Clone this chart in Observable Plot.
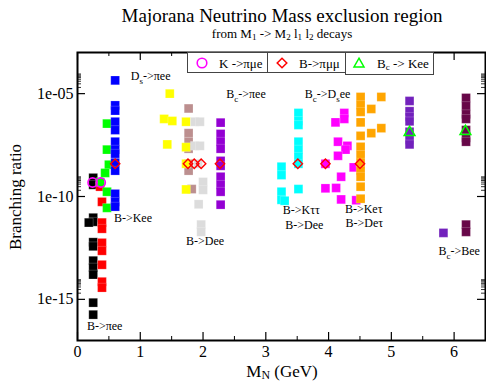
<!DOCTYPE html>
<html><head><meta charset="utf-8">
<script src="https://cdn.jsdelivr.net/npm/d3@7"></script>
<script src="https://cdn.jsdelivr.net/npm/@observablehq/plot@0.6"></script>
<style>
body{margin:0;background:#fff;}
#wrap{position:relative;width:486px;height:385px;overflow:hidden;font-family:"Liberation Serif","Times New Roman",serif;color:#000;}
#wrap svg text{font-family:"Liberation Serif","Times New Roman",serif;}
.ov{position:absolute;white-space:nowrap;line-height:1;}
.ov sub{font-size:0.7em;vertical-align:-0.25em;line-height:0;}
.lg{position:absolute;background:#fff;border:1px solid #444;box-sizing:border-box;}
.lg span{position:absolute;white-space:nowrap;font-size:13px;line-height:1;top:50%;transform:translateY(-50%);}
.lg span sub{font-size:0.7em;vertical-align:-0.25em;line-height:0;}
.lg svg{position:absolute;top:0;left:0;}
</style></head><body><div id="wrap"></div>
<script>
// ---- data: [M_N (GeV), branching ratio] ----
const bPiee   = [[0.25,8.1e-10],[0.25,3.7e-10],[0.25,9.3e-12],[0.25,5.9e-12],[0.18,5.4e-12],[0.25,6.0e-13],[0.25,3.8e-13],[0.25,7.6e-14],[0.25,3.5e-14],[0.25,1.6e-14],[0.25,6.9e-16],[0.25,1.8e-16]];
const redSq   = [[0.36,3.0e-10],[0.39,5.5e-11],[0.39,5.4e-12],[0.39,2.7e-12],[0.39,5.6e-13],[0.39,2.3e-13],[0.39,4.8e-14],[0.39,7.2e-15],[0.39,3.7e-15]];
const bKee    = [[0.47,3.5e-7],[0.47,1.9e-8],[0.5,3.5e-9],[0.44,1.4e-9],[0.36,5.0e-10],[0.47,1.7e-10],[0.47,2.8e-11]];
const dsPiee  = [[0.6,4.4e-5],[0.6,2.7e-6],[0.6,1.5e-6],[0.6,4.3e-7],[0.6,1.7e-7],[0.6,4.6e-8],[0.6,1.9e-8],[0.6,1.2e-8],[0.6,4.4e-9],[0.6,1.8e-9],[0.6,1.35e-10],[0.6,5.5e-11],[0.6,3.2e-11]];
const yellowSq= [[1.47,1.0e-5],[1.38,5.9e-7],[1.51,4.7e-7],[1.43,3.4e-8],[1.73,4.3e-7],[1.73,2.5e-8],[1.73,3.9e-9],[1.73,2.2e-10]];
const brownSq = [[1.77,1.9e-6],[1.77,1.2e-7],[1.77,4.6e-8],[1.77,2.1e-8],[1.77,3.9e-9],[1.77,1.8e-9],[1.82,2.3e-10]];
const bDee    = [[1.87,4.3e-7],[1.95,4.3e-7],[1.87,2.9e-8],[1.95,2.9e-8],[1.92,3.9e-9],[2.0,5.1e-10],[2.0,2.1e-10],[1.93,4.2e-11],[1.97,4.3e-12],[1.97,1.9e-12]];
const bcPiee  = [[2.28,3.9e-7],[2.28,1.1e-7],[2.28,4.6e-8],[2.28,2.1e-8],[2.28,5.4e-9],[2.28,3.1e-9],[2.28,9.1e-10],[2.28,3.7e-10],[2.28,1.7e-10],[2.28,4.0e-11]];
const bKtt    = [[3.52,1.15e-6],[3.52,4.7e-7],[3.52,3.0e-7],[3.52,4.6e-8],[3.52,1.9e-8],[3.52,8.5e-9],[3.52,3.9e-9],[3.52,2.3e-10],[3.25,2.8e-9],[3.25,1.1e-9],[3.25,1.7e-10],[3.25,6.9e-11],[3.3,6.2e-11]];
const bcDsee  = [[4.25,1.15e-6],[4.25,5.9e-7],[4.11,4.0e-7],[4.15,4.6e-8],[4.3,2.9e-8],[4.27,1.9e-8],[4.15,9.5e-9],[3.95,3.9e-9],[4.4,2.6e-9],[4.2,9.1e-10],[3.95,2.5e-10],[4.12,2.6e-10],[4.2,7.2e-11],[4.44,6.6e-11]];
const bKet    = [[4.51,6.9e-6],[4.51,2.8e-6],[4.51,1.3e-6],[4.51,4.0e-7],[4.51,8.9e-8],[4.51,2.6e-8],[4.51,1.05e-8],[4.51,4.4e-9],[4.51,1.8e-9],[4.51,9.1e-10],[4.51,3.0e-10],[4.51,7.8e-11],[4.68,1.8e-6],[4.68,1.2e-7],[4.84,6.9e-6],[4.84,2.1e-7]];
const indigoSq= [[5.29,4.4e-6],[5.29,1.4e-6],[5.29,7.4e-7],[5.29,4.5e-7],[5.29,1.4e-7],[5.29,5.6e-8],[5.29,3.4e-8],[5.83,1.7e-12]];
const bcBee   = [[6.19,6.2e-6],[6.19,2.5e-6],[6.19,1.0e-6],[6.19,5.9e-7],[6.19,1.7e-7],[6.19,7.1e-8],[6.19,4.6e-8],[6.19,4.3e-12],[6.19,1.9e-12]];
// open symbols
const kPimue  = [[0.24,4.8e-10],[0.37,4.8e-10]];
const bPimumu = [[0.6,3.9e-9],[1.76,3.9e-9],[1.86,3.9e-9],[1.97,3.9e-9],[2.27,3.9e-9],[3.51,3.9e-9],[3.95,3.9e-9],[4.5,3.9e-9]];
const bcKee   = [[5.29,1.3e-7],[6.18,1.45e-7]];
// annotations [x, y, text]  ({} = subscript)
const labels = [
  [0.85,7.2e-5,"D{s}->πee"],[0.58,9.3e-12,"B->Kee"],[0.15,5.2e-17,"B->πee"],
  [1.73,7.1e-13,"B->Dee"],[2.37,9.7e-6,"B{c}->πee"],[3.62,9.7e-6,"B{c}->D{s}ee"],
  [3.27,2.2e-11,"B->Kττ"],[3.31,4.0e-12,"B->Dee"],[4.26,2.3e-11,"B->Keτ"],
  [4.27,5.2e-12,"B->Deτ"],[5.75,2.3e-13,"B{c}->Bee"]
];
const xTicks = [0,1,2,3,4,5,6];
const xMinor = [0.5,1.5,2.5,3.5,4.5,5.5,6.5];
const yTicks = [1e-5,1e-10,1e-15];
const yMinor = [2e-5,3e-5,4e-5,5e-5,6e-5,7e-5,8e-5,9e-5,2e-10,3e-10,4e-10,5e-10,6e-10,7e-10,8e-10,9e-10,2e-15,3e-15,4e-15,5e-15,6e-15,7e-15,8e-15,9e-15];

const squareSeries = [
  [bPiee,"#000000"],[redSq,"#ff0000"],[bKee,"#00ff00"],[dsPiee,"#0000ff"],
  [brownSq,"#bc8f8f"],[yellowSq,"#ffff00"],[bDee,"#dcdcdc"],[bcPiee,"#9400d3"],
  [bKtt,"#00ffff"],[bcDsee,"#ff00ff"],[bKet,"#ffa500"],[indigoSq,"#7221bc"],[bcBee,"#670748"]
];

const SERIF = '"Liberation Serif","Times New Roman",serif';
const W = 486, H = 385, mL = 77, mR = 1, mT = 52, mB = 45;
const PH = H - mT - mB;
const PW = W - mL - mR;

const marks = [];
for (const [pts, color] of squareSeries) {
  marks.push(Plot.dot(pts, {x: d => d[0], y: d => d[1], symbol: "square", r: 4.95, fill: color, stroke: "white", strokeWidth: 0.5, strokeOpacity: 0.4}));
}
marks.push(Plot.dot(kPimue, {x: d => d[0], y: d => d[1], symbol: "circle", r: 4.6, stroke: "#ff00ff", strokeWidth: 1.6, fill: "none"}));
marks.push(Plot.dot(bPimumu, {x: d => d[0], y: d => d[1], symbol: "diamond2", r: 4.2, stroke: "#ff0000", strokeWidth: 1.4, fill: "none"}));
marks.push(Plot.dot(bcKee, {x: d => d[0], y: d => d[1], symbol: "triangle", r: 4.0, stroke: "#00ff00", strokeWidth: 1.5, fill: "none"}));
marks.push(Plot.text(labels, {x: d => d[0], y: d => d[1], text: d => d[2], textAnchor: "start", lineAnchor: "middle", fontSize: 12, fontFamily: SERIF, fill: "#000"}));
// inward ticks
marks.push(Plot.tickX(xTicks, {x: d => d, insetTop: PH - 8, stroke: "#000", strokeWidth: 1.2}));
marks.push(Plot.tickX(xTicks, {x: d => d, insetBottom: PH - 8, stroke: "#000", strokeWidth: 1.2}));
marks.push(Plot.tickX(xMinor, {x: d => d, insetTop: PH - 4, stroke: "#000", strokeWidth: 1}));
marks.push(Plot.tickX(xMinor, {x: d => d, insetBottom: PH - 4, stroke: "#000", strokeWidth: 1}));
marks.push(Plot.tickY(yTicks, {y: d => d, insetRight: PW - 8, stroke: "#000", strokeWidth: 1.2}));
marks.push(Plot.tickY(yTicks, {y: d => d, insetLeft: PW - 8, stroke: "#000", strokeWidth: 1.2}));
marks.push(Plot.tickY(yMinor, {y: d => d, insetRight: PW - 4, stroke: "#000", strokeWidth: 0.8}));
marks.push(Plot.tickY(yMinor, {y: d => d, insetLeft: PW - 4, stroke: "#000", strokeWidth: 0.8}));
marks.push(Plot.axisX(xTicks, {tickSize: 0, tickPadding: 5, fontSize: 16, fontFamily: SERIF, tickFormat: d => String(d), label: null}));
marks.push(Plot.axisY(yTicks, {tickSize: 0, tickPadding: 4, fontSize: 16, fontFamily: SERIF, tickFormat: d => "1e-" + String(-Math.round(Math.log10(d))).padStart(2, "0"), label: null}));
marks.push(Plot.frame({stroke: "#000", strokeWidth: 2}));

const chart = Plot.plot({
  width: W, height: H, marginLeft: mL, marginRight: mR, marginTop: mT, marginBottom: mB,
  style: {fontFamily: SERIF, background: "white", color: "#000"},
  x: {domain: [0, 6.5], axis: null},
  y: {type: "log", domain: [1e-17, 1e-3], axis: null},
  marks
});
const wrap = document.getElementById("wrap");
wrap.appendChild(chart);

// subscripts in annotation texts
d3.select(chart).selectAll("text").each(function () {
  const s = this.textContent;
  if (!s.includes("{")) return;
  const el = d3.select(this);
  el.text("");
  const parts = s.split(/(\{[^}]*\})/).filter(p => p);
  let shifted = false;
  for (const p of parts) {
    if (p.startsWith("{")) {
      el.append("tspan").attr("dy", 4).attr("font-size", 9).text(p.slice(1, -1));
      shifted = true;
    } else {
      const t = el.append("tspan").text(p);
      if (shifted) { t.attr("dy", -4); shifted = false; }
    }
  }
});

// overlays: title, subtitle, axis labels
function ov(html, x, y, size, rot) {
  const d = document.createElement("div");
  d.className = "ov";
  d.innerHTML = html;
  d.style.left = x + "px"; d.style.top = y + "px"; d.style.fontSize = size + "px";
  d.style.transform = "translate(-50%,-50%)" + (rot ? ` rotate(${rot}deg)` : "");
  wrap.appendChild(d);
}
ov("Majorana Neutrino Mass exclusion region", 282, 15, 19);
ov("from M<sub>1</sub> -&gt; M<sub>2</sub> l<sub>1</sub> l<sub>2</sub> decays", 282, 33, 13);
ov("M<sub>N</sub> (GeV)", 282, 371, 17);
ov("Branching ratio", 15, 197, 17, -90);

// legend
const legendItems = [
  {label: "K -&gt;πμe", symbol: "circle", color: "#ff00ff"},
  {label: "B-&gt;πμμ", symbol: "diamond", color: "#ff0000"},
  {label: "B<sub>c</sub> -&gt; Kee", symbol: "triangle", color: "#00ff00"}
];
const boxes = [[187, 52, 81, 21], [267, 52, 79, 21], [345, 52, 89, 23]];
legendItems.forEach((it, i) => {
  const [l, t, w, h] = boxes[i];
  const b = document.createElement("div");
  b.className = "lg";
  Object.assign(b.style, {left: l + "px", top: t + "px", width: w + "px", height: h + "px"});
  const cy = 10;
  let shape = "";
  if (it.symbol === "circle") shape = `<circle cx="14" cy="${cy}" r="4.8" fill="none" stroke="${it.color}" stroke-width="1.6"/>`;
  if (it.symbol === "diamond") shape = `<path d="M14 ${cy-4.8}L18.8 ${cy}L14 ${cy+4.8}L9.2 ${cy}Z" fill="none" stroke="${it.color}" stroke-width="1.5"/>`;
  if (it.symbol === "triangle") shape = `<path d="M13 ${cy-4.8}L18 ${cy+4}L8 ${cy+4}Z" fill="none" stroke="${it.color}" stroke-width="1.5"/>`;
  b.innerHTML = `<svg width="${w}" height="${h}">${shape}</svg><span style="left:31px;top:${cy}px">${it.label}</span>`;
  wrap.appendChild(b);
});
</script></body></html>
